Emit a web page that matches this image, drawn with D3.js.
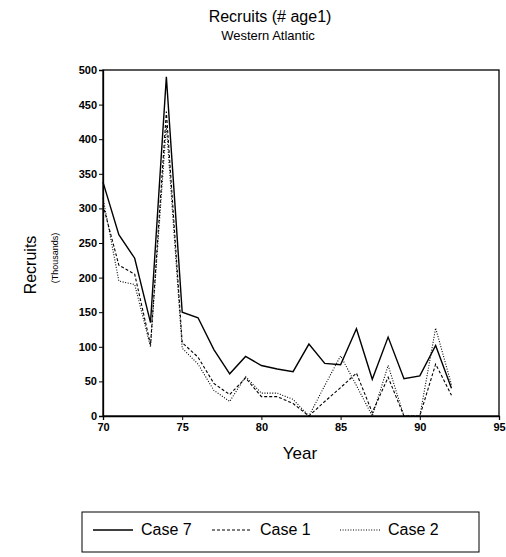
<!DOCTYPE html>
<html>
<head>
<meta charset="utf-8">
<script src="https://cdn.jsdelivr.net/npm/d3@7"></script>
<style>
  body { margin: 0; background: #fff; }
  svg { font-family: "Liberation Sans", Arial, sans-serif; }
</style>
</head>
<body>
<div id="chart"></div>
<script>
(function() {

  // -----------------------------
  // DATA
  // -----------------------------
  const years = d3.range(70, 93);
  const case7 = [338, 262, 228, 135, 490, 150, 142, 96, 61, 86, 73, 68, 64, 104, 76, 74, 126, 53, 114, 54, 58, 102, 40];
  const case1 = [305, 218, 205, 103, 440, 106, 85, 47, 31, 55, 28, 28, 18, 0, 21, 41, 62, 5, 56, 0, 0, 75, 30];
  const case2 = [315, 195, 190, 100, 420, 98, 75, 37, 21, 57, 33, 33, 24, 0, 44, 87, 44, 0, 73, 0, 0, 127, 45];
  const seriesNames = ["Case 7", "Case 1", "Case 2"];
  const yTicks = d3.range(0, 501, 50);
  const xTicks = [70, 75, 80, 85, 90, 95];

  const series = [
    {name: seriesNames[0], values: case7, dash: null, width: 1.4},
    {name: seriesNames[1], values: case1, dash: "3,2", width: 1.1},
    {name: seriesNames[2], values: case2, dash: "1,1.6", width: 1.1}
  ];

  // -----------------------------
  // SVG SETUP
  // -----------------------------
  const width = 506, height = 557;
  const margin = {top: 70, right: 7, bottom: 141, left: 103};

  const svg = d3.select("#chart").append("svg")
      .attr("width", width)
      .attr("height", height);

  svg.append("text")
      .attr("x", 270).attr("y", 22)
      .attr("text-anchor", "middle")
      .attr("font-size", 16)
      .text("Recruits (# age1)");

  svg.append("text")
      .attr("x", 268).attr("y", 40)
      .attr("text-anchor", "middle")
      .attr("font-size", 13)
      .text("Western Atlantic");

  const x = d3.scaleLinear().domain([70, 95]).range([margin.left, width - margin.right]);
  const y = d3.scaleLinear().domain([0, 500]).range([height - margin.bottom, margin.top]);

  // frame
  svg.append("rect")
      .attr("x", x(70)).attr("y", y(500))
      .attr("width", x(95) - x(70)).attr("height", y(0) - y(500))
      .attr("fill", "none").attr("stroke", "#000").attr("stroke-width", 1.3);

  // axes
  const yAxis = svg.append("g")
      .attr("transform", `translate(${x(70)},0)`)
      .call(d3.axisLeft(y).tickValues(yTicks).tickSize(4).tickPadding(2));
  const xAxis = svg.append("g")
      .attr("transform", `translate(0,${y(0)})`)
      .call(d3.axisBottom(x).tickValues(xTicks).tickSize(4).tickPadding(3));

  [yAxis, xAxis].forEach(a => {
    a.select(".domain").attr("stroke-width", 1.3);
    a.selectAll("text")
      .attr("font-family", "Liberation Sans, Arial, sans-serif")
      .attr("font-size", 11)
      .attr("font-weight", "bold")
      .attr("fill", "#000");
  });

  // axis titles
  svg.append("text")
      .attr("transform", "translate(36,265) rotate(-90)")
      .attr("text-anchor", "middle")
      .attr("font-size", 16)
      .text("Recruits");
  svg.append("text")
      .attr("transform", "translate(58,258) rotate(-90)")
      .attr("text-anchor", "middle")
      .attr("font-size", 9)
      .text("(Thousands)");
  svg.append("text")
      .attr("x", 300).attr("y", 459)
      .attr("text-anchor", "middle")
      .attr("font-size", 17)
      .text("Year");

  // -----------------------------
  // LINES
  // -----------------------------
  const line = d3.line()
      .x((d, i) => x(years[i]))
      .y(d => y(d));

  svg.selectAll(".series")
      .data(series)
      .enter().append("path")
      .attr("class", "series")
      .attr("d", d => line(d.values))
      .attr("fill", "none")
      .attr("stroke", "#000")
      .attr("stroke-width", d => d.width)
      .attr("stroke-dasharray", d => d.dash)
      .attr("stroke-linejoin", "miter");

  // -----------------------------
  // LEGEND
  // -----------------------------
  const legend = svg.append("g");
  legend.append("rect")
      .attr("x", 82).attr("y", 512)
      .attr("width", 397).attr("height", 40)
      .attr("fill", "none").attr("stroke", "#000").attr("stroke-width", 1);

  const legendX = [93, 212, 340];
  const items = legend.selectAll(".item")
      .data(series)
      .enter().append("g")
      .attr("transform", (d, i) => `translate(${legendX[i]},530)`);
  items.append("line")
      .attr("x1", 0).attr("x2", 40)
      .attr("stroke", "#000")
      .attr("stroke-width", d => d.width)
      .attr("stroke-dasharray", d => d.dash);
  items.append("text")
      .attr("x", 48).attr("y", 5)
      .attr("font-size", 16)
      .text(d => d.name);

})();
</script>
</body>
</html>
